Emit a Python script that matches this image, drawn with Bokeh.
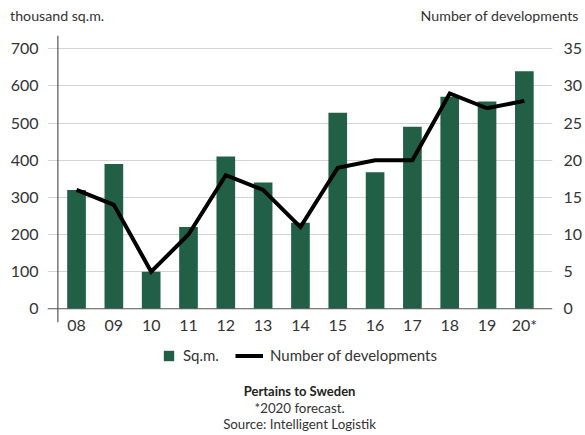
from bokeh.plotting import figure
from bokeh.layouts import column
from bokeh.models import (Range1d, LinearAxis, FixedTicker, Span, Legend, LegendItem, Label)
from bokeh.embed import file_html
from bokeh.resources import INLINE

years = ["08", "09", "10", "11", "12", "13", "14", "15", "16", "17", "18", "19", "20*"]
sqm = [320, 390, 100, 220, 410, 340, 232, 528, 368, 490, 571, 558, 640]
developments = [16, 14, 5, 10, 18, 16, 11, 19, 20, 20, 29, 27, 28]
left_ticks = [0, 100, 200, 300, 400, 500, 600, 700]
right_ticks = [0, 5, 10, 15, 20, 25, 30, 35]
left_unit = "thousand sq.m."
right_unit = "Number of developments"
notes = ["Pertains to Sweden", "*2020 forecast.", "Source: Intelligent Logistik"]

FONT = "Lato"
TXT = "#333333"
GREEN = "#216046"

xs = list(range(len(years)))

W = 585
H_MAIN = 340
H_FOOT = 95

p = figure(width=W, height=H_MAIN,
           output_backend="svg", toolbar_location=None,
           x_range=Range1d(-0.778, 12.754), y_range=Range1d(-37, 736),
           min_border_left=47, min_border_right=30, min_border_top=35,
           min_border_bottom=H_MAIN - 35 - 287)
p.outline_line_color = None
p.background_fill_color = "white"
p.border_fill_color = "white"
p.extra_y_ranges = {"dev": Range1d(-37 / 20, 736 / 20)}

p.xgrid.visible = False
p.ygrid.ticker = FixedTicker(ticks=left_ticks[1:])
p.ygrid.grid_line_color = "#d4d4d4"
p.ygrid.grid_line_width = 1

def style_axis(ax, standoff, size="16px"):
    ax.axis_line_color = None
    ax.major_tick_line_color = None
    ax.minor_tick_line_color = None
    ax.major_tick_out = 0
    ax.major_tick_in = 0
    ax.minor_tick_out = 0
    ax.minor_tick_in = 0
    ax.major_label_standoff = standoff
    ax.major_label_text_font = FONT
    ax.major_label_text_font_size = size
    ax.major_label_text_color = TXT

p.xaxis.ticker = FixedTicker(ticks=xs)
p.xaxis.major_label_overrides = {i: y for i, y in enumerate(years)}
style_axis(p.xaxis[0], -8)

p.yaxis.ticker = FixedTicker(ticks=left_ticks)
style_axis(p.yaxis[0], 9)

ry = LinearAxis(y_range_name="dev", ticker=FixedTicker(ticks=right_ticks))
style_axis(ry, 11)
p.add_layout(ry, "right")

head_pos = [-0.52, 11.343]
top = LinearAxis(ticker=FixedTicker(ticks=head_pos),
                 major_label_overrides={head_pos[0]: left_unit, head_pos[1]: right_unit})
style_axis(top, 12, size="14.2px")
p.add_layout(top, "above")

p.add_layout(Span(location=0, dimension="width", line_color="#555555", line_width=1))
p.add_layout(Span(location=-0.5, dimension="height", line_color="#555555", line_width=1.2))

bars = p.vbar(x=xs, top=sqm, width=0.5, bottom=0, fill_color=GREEN, line_color=None)
line = p.line(x=xs, y=developments, y_range_name="dev", line_color="black",
              line_width=4, line_join="miter")

# footer: legend and notes
f = figure(width=W, height=H_FOOT, output_backend="svg", toolbar_location=None,
           x_range=Range1d(0, W), y_range=Range1d(0, H_FOOT),
           min_border_left=0, min_border_right=0, min_border_top=0, min_border_bottom=0)
f.axis.visible = False
f.grid.visible = False
f.outline_line_color = None
f.background_fill_color = "white"
f.border_fill_color = "white"

# legend proxies, kept outside the visible footer range
sw = f.vbar(x=[-50], top=[-40], bottom=[-60], width=5, fill_color=GREEN, line_color=None)
ln = f.line(x=[-60, -50], y=[-50, -50], line_color="black", line_width=4)

common = dict(orientation="horizontal", glyph_height=13, label_height=13, padding=0,
              margin=0, border_line_color=None, background_fill_alpha=0,
              label_text_font=FONT, label_text_font_size="15px", label_text_color=TXT,
              label_text_baseline="middle")
f.add_layout(Legend(items=[LegendItem(label="Sq.m.", renderers=[sw])],
                    location=(115, 71), glyph_width=13, label_standoff=8, **common))
f.add_layout(Legend(items=[LegendItem(label="Number of developments", renderers=[ln])],
                    location=(188, 71), glyph_width=28, label_standoff=7, **common))

for i, (txt, yy) in enumerate(zip(notes, [45, 28, 12])):
    f.add_layout(Label(text=txt, x=292, y=yy, text_align="center", text_baseline="middle",
                       text_font=FONT, text_font_size="13px" if i == 0 else "13.3px",
                       text_color="#222222" if i == 0 else TXT,
                       text_font_style="bold" if i == 0 else "normal"))

open("out.html", "w").write(file_html(column(p, f, spacing=0), INLINE))
